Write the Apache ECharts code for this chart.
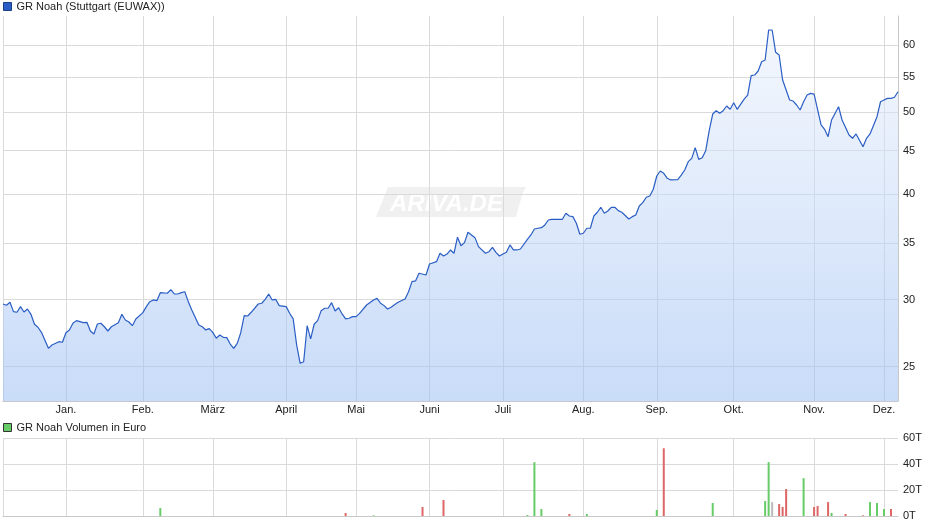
<!DOCTYPE html>
<html>
<head>
<meta charset="utf-8">
<title>GR Noah</title>
<script src="https://cdn.jsdelivr.net/npm/echarts@6/dist/echarts.min.js"></script>
<style>
  html, body { margin: 0; padding: 0; background: #fff; }
  #chart { width: 940px; height: 526px; }
</style>
</head>
<body>
<div id="chart"></div>
<script>
// Handelstage (ohne Wochenenden und Börsenfeiertage)
const firstDay = '2024-12-02';
const lastDay = '2025-12-05';
const holidays = ['2024-12-24', '2024-12-25', '2024-12-26', '2024-12-31',
  '2025-01-01', '2025-04-18', '2025-04-21', '2025-05-01'];

const monthNames = ['Jan.', 'Feb.', 'März', 'April', 'Mai', 'Juni',
  'Juli', 'Aug.', 'Sep.', 'Okt.', 'Nov.', 'Dez.'];

// Kursachse (log) und Volumenachse
const priceTicks = [25, 30, 35, 40, 45, 50, 55, 60];
const priceMin = 22.77;
const priceMax = 64.94;
const volMax = 60;
const volStep = 20;

// Schlusskurse in Euro
const prices = [
  ['2024-12-02', 29.65], ['2024-12-03', 29.55], ['2024-12-04', 29.79], ['2024-12-05', 29.04],
  ['2024-12-06', 28.99], ['2024-12-09', 29.44], ['2024-12-10', 29.01], ['2024-12-11', 29.25],
  ['2024-12-12', 28.83], ['2024-12-13', 28.06], ['2024-12-16', 27.83], ['2024-12-17', 27.45],
  ['2024-12-19', 26.28], ['2024-12-20', 26.52], ['2024-12-27', 26.76], ['2024-12-30', 26.72],
  ['2025-01-02', 27.42], ['2025-01-03', 27.63], ['2025-01-06', 28.14], ['2025-01-07', 28.34],
  ['2025-01-09', 28.18], ['2025-01-10', 28.21], ['2025-01-13', 27.55], ['2025-01-14', 27.33],
  ['2025-01-15', 28.08], ['2025-01-16', 28.14], ['2025-01-17', 27.87], ['2025-01-20', 27.55],
  ['2025-01-21', 27.87], ['2025-01-23', 28.18], ['2025-01-24', 28.83], ['2025-01-27', 28.39],
  ['2025-01-28', 28.23], ['2025-01-29', 27.95], ['2025-01-30', 28.47],
  ['2025-02-03', 28.96], ['2025-02-04', 29.44], ['2025-02-05', 29.84], ['2025-02-06', 29.98],
  ['2025-02-07', 29.92], ['2025-02-10', 30.58], ['2025-02-12', 30.53], ['2025-02-13', 30.83],
  ['2025-02-14', 30.47], ['2025-02-17', 30.47], ['2025-02-18', 30.58], ['2025-02-19', 30.66],
  ['2025-02-20', 29.84], ['2025-02-21', 29.17], ['2025-02-25', 28.00], ['2025-02-26', 27.87],
  ['2025-02-27', 27.63], ['2025-02-28', 27.73],
  ['2025-03-03', 27.45], ['2025-03-04', 27.01], ['2025-03-05', 27.25], ['2025-03-06', 27.08],
  ['2025-03-07', 27.06], ['2025-03-10', 26.59], ['2025-03-11', 26.28], ['2025-03-12', 26.64],
  ['2025-03-13', 27.42], ['2025-03-14', 28.72], ['2025-03-17', 28.70], ['2025-03-18', 28.99],
  ['2025-03-20', 29.65], ['2025-03-21', 29.71], ['2025-03-24', 30.03], ['2025-03-25', 30.47],
  ['2025-03-26', 29.98], ['2025-03-27', 30.03], ['2025-03-28', 29.52],
  ['2025-04-01', 29.44], ['2025-04-02', 28.91], ['2025-04-03', 28.47], ['2025-04-04', 26.52],
  ['2025-04-07', 25.23], ['2025-04-08', 25.34], ['2025-04-09', 27.95], ['2025-04-10', 26.96],
  ['2025-04-11', 28.06], ['2025-04-14', 28.34], ['2025-04-15', 29.12], ['2025-04-16', 29.31],
  ['2025-04-17', 29.31], ['2025-04-22', 29.76], ['2025-04-23', 29.09], ['2025-04-24', 29.35],
  ['2025-04-25', 28.86], ['2025-04-28', 28.47], ['2025-04-29', 28.52], ['2025-04-30', 28.65],
  ['2025-05-02', 28.65], ['2025-05-05', 28.90], ['2025-05-07', 29.57], ['2025-05-09', 29.98],
  ['2025-05-12', 30.11], ['2025-05-13', 29.71], ['2025-05-14', 29.52], ['2025-05-15', 29.25],
  ['2025-05-16', 29.39], ['2025-05-20', 29.79], ['2025-05-22', 30.06], ['2025-05-23', 30.66],
  ['2025-05-26', 31.51], ['2025-05-27', 31.57], ['2025-05-28', 32.24], ['2025-05-30', 32.09],
  ['2025-06-02', 33.06], ['2025-06-04', 33.27], ['2025-06-05', 34.04], ['2025-06-06', 33.79],
  ['2025-06-09', 33.97], ['2025-06-10', 34.35], ['2025-06-11', 34.04], ['2025-06-12', 35.56],
  ['2025-06-13', 34.75], ['2025-06-16', 35.04], ['2025-06-17', 36.04], ['2025-06-19', 35.52],
  ['2025-06-20', 34.66], ['2025-06-24', 34.04], ['2025-06-25', 34.19], ['2025-06-26', 34.60],
  ['2025-06-27', 34.13], ['2025-06-30', 33.79],
  ['2025-07-01', 33.97], ['2025-07-02', 34.13], ['2025-07-03', 34.82], ['2025-07-04', 34.35],
  ['2025-07-07', 34.35], ['2025-07-08', 34.44], ['2025-07-10', 35.36], ['2025-07-11', 35.78],
  ['2025-07-14', 36.37], ['2025-07-15', 36.44], ['2025-07-16', 36.50], ['2025-07-17', 36.77],
  ['2025-07-18', 37.27], ['2025-07-21', 37.34], ['2025-07-24', 37.34], ['2025-07-25', 37.96],
  ['2025-07-28', 37.68], ['2025-07-29', 37.61], ['2025-07-30', 36.94], ['2025-07-31', 35.85],
  ['2025-08-01', 35.95], ['2025-08-04', 36.44], ['2025-08-05', 36.44], ['2025-08-06', 37.68],
  ['2025-08-07', 38.06], ['2025-08-08', 38.58], ['2025-08-11', 37.96], ['2025-08-12', 38.19],
  ['2025-08-13', 38.58], ['2025-08-14', 38.58], ['2025-08-15', 38.23], ['2025-08-18', 38.06],
  ['2025-08-20', 37.37], ['2025-08-21', 37.61], ['2025-08-22', 37.78], ['2025-08-25', 38.72],
  ['2025-08-26', 39.07], ['2025-08-27', 39.65], ['2025-08-28', 39.79], ['2025-08-29', 40.52],
  ['2025-09-01', 42.01], ['2025-09-02', 42.59], ['2025-09-03', 42.32], ['2025-09-04', 41.75],
  ['2025-09-05', 41.56], ['2025-09-09', 41.60], ['2025-09-10', 42.12], ['2025-09-11', 42.70],
  ['2025-09-12', 43.68], ['2025-09-15', 44.08], ['2025-09-16', 45.38], ['2025-09-17', 43.96],
  ['2025-09-18', 44.16], ['2025-09-19', 45.01], ['2025-09-22', 47.53], ['2025-09-23', 49.73],
  ['2025-09-24', 50.18], ['2025-09-25', 49.83], ['2025-09-26', 50.18], ['2025-09-29', 50.83],
  ['2025-09-30', 50.37],
  ['2025-10-01', 51.29], ['2025-10-02', 50.37], ['2025-10-06', 51.80], ['2025-10-07', 52.37],
  ['2025-10-08', 55.20], ['2025-10-09', 55.30], ['2025-10-10', 55.91], ['2025-10-13', 57.34],
  ['2025-10-14', 57.61], ['2025-10-15', 62.51], ['2025-10-16', 62.51], ['2025-10-17', 58.83],
  ['2025-10-20', 58.40], ['2025-10-21', 54.55], ['2025-10-23', 51.66], ['2025-10-24', 51.52],
  ['2025-10-27', 50.97], ['2025-10-28', 50.28], ['2025-10-29', 51.42], ['2025-10-30', 52.37],
  ['2025-10-31', 52.61],
  ['2025-11-03', 52.51], ['2025-11-05', 48.27], ['2025-11-06', 47.70], ['2025-11-07', 46.75],
  ['2025-11-10', 48.93], ['2025-11-12', 50.73], ['2025-11-13', 48.93], ['2025-11-17', 46.97],
  ['2025-11-18', 46.55], ['2025-11-19', 47.10], ['2025-11-21', 45.50], ['2025-11-24', 46.55],
  ['2025-11-25', 47.10], ['2025-11-27', 49.37], ['2025-11-28', 51.42],
  ['2025-12-01', 51.66], ['2025-12-02', 51.90], ['2025-12-03', 51.90], ['2025-12-04', 52.05],
  ['2025-12-05', 52.84]
];

// Volumen in Tausend Euro, mit Tagestendenz
const volumes = [
  ['2025-02-10', 6.1, 'up'], ['2025-04-28', 2.3, 'down'], ['2025-05-09', 0.5, 'up'],
  ['2025-05-29', 6.9, 'down'], ['2025-06-06', 12.3, 'down'], ['2025-07-10', 0.8, 'up'],
  ['2025-07-14', 41.4, 'up'], ['2025-07-16', 5.4, 'up'], ['2025-07-28', 1.5, 'down'],
  ['2025-08-04', 1.5, 'up'], ['2025-09-01', 4.6, 'up'], ['2025-09-03', 52.1, 'down'],
  ['2025-09-23', 10.0, 'up'], ['2025-10-14', 11.5, 'up'], ['2025-10-15', 41.4, 'up'],
  ['2025-10-16', 10.7, 'flat'], ['2025-10-20', 9.2, 'down'], ['2025-10-21', 6.9, 'down'],
  ['2025-10-22', 20.7, 'down'], ['2025-10-29', 29.1, 'up'], ['2025-11-03', 6.9, 'down'],
  ['2025-11-04', 7.7, 'down'], ['2025-11-07', 10.7, 'down'], ['2025-11-10', 2.3, 'up'],
  ['2025-11-14', 1.5, 'down'], ['2025-11-21', 0.5, 'down'], ['2025-11-25', 10.7, 'up'],
  ['2025-11-27', 10.0, 'up'], ['2025-12-01', 5.4, 'up'], ['2025-12-03', 5.4, 'down']
];
const trendColors = { up: '#66cc66', down: '#dd6666', flat: '#bbbbbb' };

function tradingDays(from, to, skip) {
  const out = [];
  const d = new Date(from + 'T00:00:00Z');
  const end = new Date(to + 'T00:00:00Z');
  while (d <= end) {
    const wd = d.getUTCDay();
    const s = d.toISOString().slice(0, 10);
    if (wd !== 0 && wd !== 6 && skip.indexOf(s) < 0) out.push(s);
    d.setUTCDate(d.getUTCDate() + 1);
  }
  return out;
}

const days = tradingDays(firstDay, lastDay, holidays);

// erster Handelstag eines Monats
function isMonthStart(i) {
  return i > 0 && days[i].slice(5, 7) !== days[i - 1].slice(5, 7);
}

const font = '"Liberation Sans", Arial, sans-serif';
const gridColor = '#dadada';

function xAxisFor(gridIndex, showLabels) {
  return {
    type: 'category',
    gridIndex: gridIndex,
    data: days,
    boundaryGap: false,
    axisLine: { show: true, onZero: false, lineStyle: { color: '#c8c8c8' } },
    axisTick: { show: false },
    axisLabel: {
      show: showLabels,
      interval: (i) => isMonthStart(i),
      formatter: (v) => monthNames[parseInt(v.slice(5, 7), 10) - 1],
      color: '#222',
      fontSize: 11,
      margin: 3
    },
    splitLine: {
      show: true,
      interval: (i) => i === 0 || isMonthStart(i),
      lineStyle: { color: gridColor, width: 1 }
    }
  };
}

const chart = echarts.init(document.getElementById('chart'));

chart.setOption({
  animation: false,
  textStyle: { fontFamily: font },
  legend: [
    {
      data: ['GR Noah (Stuttgart (EUWAX))'],
      left: 3, top: 1, padding: 0,
      icon: 'rect', itemWidth: 8, itemHeight: 8,
      selectedMode: false,
      itemStyle: { borderColor: '#173f86', borderWidth: 1 },
      textStyle: { fontSize: 11, color: '#222', fontFamily: font }
    },
    {
      data: ['GR Noah Volumen in Euro'],
      left: 3, top: 422, padding: 0,
      icon: 'rect', itemWidth: 8, itemHeight: 8,
      selectedMode: false,
      itemStyle: { color: '#66cc66', borderColor: '#333', borderWidth: 1 },
      textStyle: { fontSize: 11, color: '#222', fontFamily: font }
    }
  ],
  graphic: [
    {
      type: 'group', left: 376, top: 187, z: 10, silent: true,
      children: [
        {
          type: 'polygon',
          shape: { points: [[12, 0], [150, 0], [146, 8], [140, 30], [0, 30], [4, 20]] },
          style: { fill: 'rgba(234,234,234,0.7)' }
        },
        {
          type: 'text', x: 14, y: 5,
          style: { text: 'ARIVA.DE', font: 'italic bold 24px ' + font, fill: '#ffffff' }
        }
      ]
    }
  ],
  grid: [
    { left: 3, right: 42, top: 16, height: 385 },
    { left: 3, right: 42, top: 438, height: 78 }
  ],
  xAxis: [xAxisFor(0, true), xAxisFor(1, false)],
  yAxis: [
    {
      type: 'log',
      gridIndex: 0,
      position: 'right',
      min: priceMin,
      max: priceMax,
      axisLine: { show: true, lineStyle: { color: '#c8c8c8' } },
      axisTick: { show: false },
      axisLabel: { show: false },
      splitLine: { show: false }
    },
    {
      type: 'value',
      gridIndex: 1,
      position: 'right',
      min: 0,
      max: volMax,
      interval: volStep,
      axisLine: { show: false },
      axisTick: { show: false },
      axisLabel: { formatter: '{value}T', color: '#222', fontSize: 11, margin: 5 },
      splitLine: { lineStyle: { color: gridColor, width: 1 } }
    }
  ],
  series: [
    {
      name: 'GR Noah (Stuttgart (EUWAX))',
      type: 'line',
      xAxisIndex: 0,
      yAxisIndex: 0,
      data: prices,
      showSymbol: false,
      clip: false,
      color: '#2a5ec4',
      lineStyle: { color: '#2a5ec4', width: 1.2 },
      areaStyle: {
        origin: 'start',
        color: new echarts.graphic.LinearGradient(0, 0, 0, 1, [
          { offset: 0, color: 'rgba(234,241,252,0.75)' },
          { offset: 1, color: 'rgba(152,188,243,0.75)' }
        ])
      },
      markLine: {
        silent: true,
        symbol: 'none',
        z: 1,
        lineStyle: { color: gridColor, width: 1, type: 'solid' },
        label: {
          position: 'end', distance: 5, color: '#222', fontSize: 11,
          fontFamily: font,
          formatter: (p) => String(p.value)
        },
        emphasis: { disabled: true },
        data: priceTicks.map((v) => ({ yAxis: v }))
      }
    },
    {
      name: 'GR Noah Volumen in Euro',
      type: 'bar',
      xAxisIndex: 1,
      yAxisIndex: 1,
      barWidth: 2,
      color: '#66cc66',
      data: volumes.map((v) => ({
        value: [v[0], v[1]],
        itemStyle: { color: trendColors[v[2]] }
      }))
    }
  ]
});
</script>
</body>
</html>
